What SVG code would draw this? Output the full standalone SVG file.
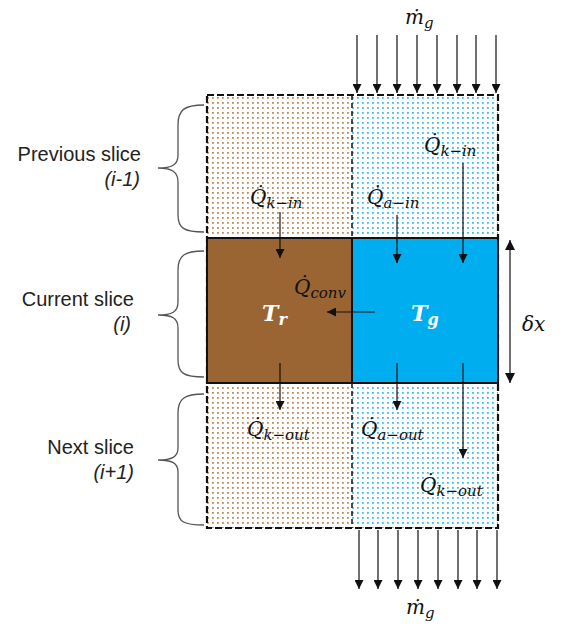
<svg xmlns="http://www.w3.org/2000/svg" width="564" height="633" viewBox="0 0 564 633">
<style>
.lbl{font-family:"Liberation Sans",Arial,sans-serif;font-size:20px;fill:#222;text-anchor:end}
.it{font-style:italic}
.m{font-family:"DejaVu Serif","Liberation Serif",serif;font-style:italic;font-size:20px;fill:#111}
.sub{font-size:15px}
.w{font-family:"DejaVu Serif","Liberation Serif",serif;font-style:italic;font-weight:bold;font-size:22px;fill:#fff}
.ar{stroke:#111;stroke-width:1.2;fill:none;marker-end:url(#ah)}
.br{stroke:#555;stroke-width:1.3;fill:none}
</style>
<defs>
<marker id="ah" viewBox="0 0 10 10" refX="10" refY="5" markerWidth="9" markerHeight="9" markerUnits="userSpaceOnUse" orient="auto">
<path d="M0,0 L10,5 L0,10 z" fill="#111"/>
</marker>
<marker id="ah2" viewBox="0 0 10 10" refX="10" refY="5" markerWidth="10" markerHeight="10" markerUnits="userSpaceOnUse" orient="auto-start-reverse">
<path d="M0,0 L10,5 L0,10 z" fill="#111"/>
</marker>
<pattern id="pb" x="0" y="0" width="5" height="5" patternUnits="userSpaceOnUse">
<rect x="2" y="2" width="1.8" height="1.8" fill="#c08a58"/>
</pattern>
<pattern id="pg" x="0" y="0" width="5" height="5" patternUnits="userSpaceOnUse">
<rect x="2" y="2" width="1.8" height="1.8" fill="#3cbcf0"/>
</pattern>
</defs>

<g id="prev-slice">
<rect x="207" y="95" width="145" height="143" fill="url(#pb)"/>
<rect x="352" y="95" width="146" height="143" fill="url(#pg)"/>
</g>
<g id="next-slice">
<rect x="207" y="383" width="145" height="145" fill="url(#pb)"/>
<rect x="352" y="383" width="146" height="145" fill="url(#pg)"/>
</g>
<g id="outline">
<rect x="207" y="95" width="291" height="433" fill="none" stroke="#111" stroke-width="2.2" stroke-dasharray="7,3"/>
<line x1="352" y1="95" x2="352" y2="528" stroke="#111" stroke-width="1.5" stroke-dasharray="5,3"/>
</g>
<g id="current-rock">
<rect x="207" y="238" width="145" height="145" fill="#9b6533" stroke="#111" stroke-width="2"/>
<text class="w" x="262" y="321">T<tspan font-size="16" dy="4">r</tspan></text>
</g>
<g id="current-gas">
<rect x="352" y="238" width="146" height="145" fill="#00aeef" stroke="#111" stroke-width="2"/>
<text class="w" x="411" y="321">T<tspan font-size="16" dy="4">g</tspan></text>
</g>

<g id="connectors">
<line class="ar" x1="357" y1="35" x2="357" y2="93"/>
<line class="ar" x1="377" y1="35" x2="377" y2="93"/>
<line class="ar" x1="397" y1="35" x2="397" y2="93"/>
<line class="ar" x1="417" y1="35" x2="417" y2="93"/>
<line class="ar" x1="437" y1="35" x2="437" y2="93"/>
<line class="ar" x1="457" y1="35" x2="457" y2="93"/>
<line class="ar" x1="476" y1="35" x2="476" y2="93"/>
<line class="ar" x1="496" y1="35" x2="496" y2="93"/>

<line class="ar" x1="359" y1="530" x2="359" y2="589"/>
<line class="ar" x1="378" y1="530" x2="378" y2="589"/>
<line class="ar" x1="398" y1="530" x2="398" y2="589"/>
<line class="ar" x1="418" y1="530" x2="418" y2="589"/>
<line class="ar" x1="438" y1="530" x2="438" y2="589"/>
<line class="ar" x1="458" y1="530" x2="458" y2="589"/>
<line class="ar" x1="477" y1="530" x2="477" y2="589"/>
<line class="ar" x1="497" y1="530" x2="497" y2="589"/>

<line class="ar" x1="280" y1="212" x2="280" y2="258"/>
<line class="ar" x1="397" y1="215" x2="397" y2="263"/>
<line class="ar" x1="463" y1="163" x2="463" y2="263"/>
<line class="ar" x1="375" y1="312" x2="327" y2="312"/>
<line class="ar" x1="280" y1="363" x2="280" y2="410"/>
<line class="ar" x1="397" y1="363" x2="397" y2="410"/>
<line class="ar" x1="463" y1="363" x2="463" y2="458"/>
<line x1="510" y1="240" x2="510" y2="383" stroke="#111" stroke-width="1.2" marker-start="url(#ah2)" marker-end="url(#ah2)"/>
</g>

<g id="flow-labels">
<text class="m" x="405" y="24">ṁ<tspan class="sub" dy="4">g</tspan></text>
<text class="m" x="406" y="614">ṁ<tspan class="sub" dy="4">g</tspan></text>
<text class="m" x="250" y="204">Q̇<tspan class="sub" dy="4">k−in</tspan></text>
<text class="m" x="367" y="204">Q̇<tspan class="sub" dy="4">a−in</tspan></text>
<text class="m" x="424" y="152">Q̇<tspan class="sub" dy="4">k−in</tspan></text>
<text class="m" x="294" y="294">Q̇<tspan class="sub" dy="4">conv</tspan></text>
<text class="m" x="247" y="436">Q̇<tspan class="sub" dy="4">k−out</tspan></text>
<text class="m" x="361" y="436">Q̇<tspan class="sub" dy="4">a−out</tspan></text>
<text class="m" x="420" y="492">Q̇<tspan class="sub" dy="4">k−out</tspan></text>
<text class="m" x="522" y="331">δx</text>
</g>

<g id="brace-prev">
<path class="br" d="M204,105 C184,105 178,110 178,125 L178,155 C178,165 172,168 158,168 C172,168 178,172 178,182 L178,215 C178,228 184,232 204,232"/>
<text class="lbl" x="141" y="161">Previous slice</text>
<text class="lbl it" x="140" y="186">(i-1)</text>
</g>
<g id="brace-current">
<path class="br" d="M204,251 C184,251 178,256 178,270 L178,302 C178,312 172,315 158,315 C172,315 178,318 178,328 L178,360 C178,373 184,377 204,377"/>
<text class="lbl" x="134" y="306">Current slice</text>
<text class="lbl it" x="131" y="331">(i)</text>
</g>
<g id="brace-next">
<path class="br" d="M204,394 C184,394 178,399 178,413 L178,448 C178,457 172,460 158,460 C172,460 178,463 178,472 L178,510 C178,522 184,525 204,525"/>
<text class="lbl" x="134" y="454">Next slice</text>
<text class="lbl it" x="134" y="479">(i+1)</text>
</g>
</svg>
